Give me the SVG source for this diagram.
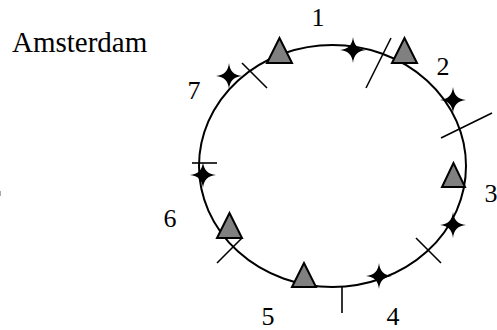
<svg xmlns="http://www.w3.org/2000/svg" width="497" height="330" viewBox="0 0 497 330">
<defs>
<style>
text{font-family:"Liberation Serif","DejaVu Serif",serif}
.lbl{font-size:26px;fill:#000;text-anchor:middle}
.city{font-size:29px;fill:#000}
.tri{fill:#808080;stroke:#000;stroke-width:2;stroke-linejoin:miter}
.tick{stroke:#000;stroke-width:1.6;fill:none}
.star{fill:#000}
</style>
<path id="st" d="M0,-13 C0.8,-5 5,-0.8 13,0 C5,0.8 0.8,5 0,13 C-0.8,5 -5,0.8 -13,0 C-5,-0.8 -0.8,-5 0,-13 Z"/>
</defs>
<rect width="497" height="330" fill="#fff"/>
<text class="city" x="12" y="52">Amsterdam</text>
<line x1="0.5" y1="191" x2="0.5" y2="196" stroke="#aaa" stroke-width="1"/>
<g id="connectors">
<ellipse cx="332.5" cy="166" rx="133.5" ry="121" fill="none" stroke="#000" stroke-width="2"/>
<line class="tick" x1="242" y1="63" x2="267" y2="88"/>
<line class="tick" x1="391" y1="38" x2="366" y2="88"/>
<line class="tick" x1="492" y1="113" x2="441" y2="138"/>
<line class="tick" x1="416" y1="238" x2="441" y2="263"/>
<line class="tick" x1="342" y1="287" x2="342" y2="313"/>
<line class="tick" x1="192" y1="163" x2="217" y2="163"/>
<line class="tick" x1="217" y1="263" x2="242" y2="238"/>
</g>
<g id="station1">
<polygon class="tri" points="279.5,38 267,63 292,63"/>
<polygon class="tri" points="404.5,38 392,63 417,63"/>
<use href="#st" class="star" x="353" y="50"/>
<text class="lbl" x="318" y="26">1</text>
</g>
<g id="station2">
<use href="#st" class="star" x="453" y="100"/>
<text class="lbl" x="443" y="75">2</text>
</g>
<g id="station3">
<polygon class="tri" points="453.5,163 442,187 465,187"/>
<use href="#st" class="star" x="453" y="225"/>
<text class="lbl" x="491" y="202">3</text>
</g>
<g id="station4">
<use href="#st" class="star" x="379" y="276"/>
<text class="lbl" x="393" y="325">4</text>
</g>
<g id="station5">
<polygon class="tri" points="304,263 292,287 316,287"/>
<text class="lbl" x="268" y="325">5</text>
</g>
<g id="station6">
<polygon class="tri" points="229.5,213 217,238 242,238"/>
<use href="#st" class="star" x="203" y="175"/>
<text class="lbl" x="170" y="227">6</text>
</g>
<g id="station7">
<use href="#st" class="star" x="229" y="76"/>
<text class="lbl" x="194" y="99">7</text>
</g>
</svg>
